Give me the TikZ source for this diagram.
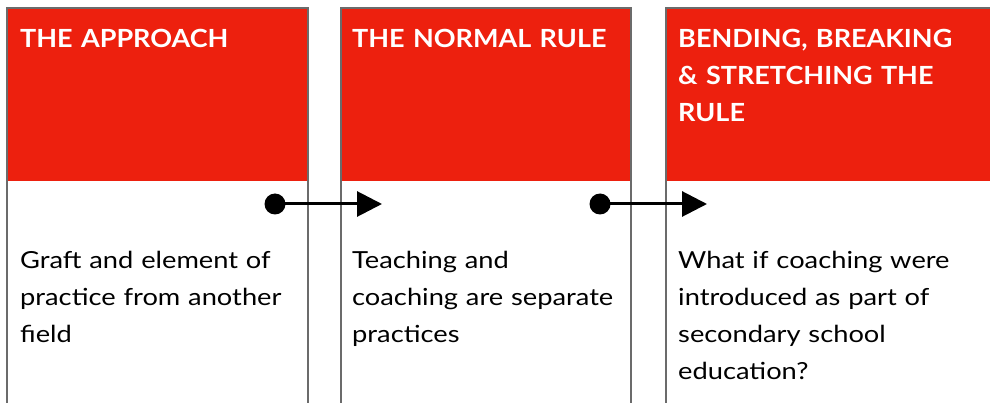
\documentclass[tikz,border=0pt]{standalone}
\usepackage{fontspec}
\setmainfont{Lato}
\newfontfamily\bodyfont[FakeStretch=1.16]{Lato}
\newfontfamily\headfont[FakeStretch=1.08]{Lato Bold}
\usetikzlibrary{arrows.meta}
\definecolor{hdrred}{HTML}{ED200E}
\definecolor{bordergray}{HTML}{6B6B6B}
\tikzset{
  header/.style={fill=hdrred, draw=none},
  frame/.style={draw=bordergray, line width=2.5pt},
  hdrtext/.style={anchor=base west, inner sep=0, text=white, text width=300pt, align=left,
    font={\headfont\fontsize{25}{37}\selectfont}},
  bodytext/.style={anchor=base west, inner sep=0, text=black, text width=310pt, align=left,
    font={\bodyfont\fontsize{23.5}{37}\selectfont}},
  dotnode/.style={circle, fill=black, inner sep=0, minimum size=21pt},
  link/.style={line width=3pt, -{Triangle[length=25pt,width=25pt]}}
}
\begin{document}
\begin{tikzpicture}[x=1pt,y=-1pt]
\useasboundingbox (0,0) rectangle (990,403);
\clip (0,0) rectangle (990,403);
% column boxes
\fill[header] (7,8) rectangle (308,181);
\fill[header] (341,8) rectangle (631,181);
\fill[header] (666,8) rectangle (1000,181);
\draw[frame] (7,420) -- (7,8) -- (308,8) -- (308,420);
\draw[frame] (341,420) -- (341,8) -- (631,8) -- (631,420);
\draw[frame] (666,420) -- (666,8) -- (1000,8);
% headers
\node[hdrtext] (h1) at (20,48) {THE APPROACH};
\node[hdrtext] (h2) at (352,48) {THE NORMAL RULE};
\node[hdrtext] (h3) at (678,48) {BENDING, BREAKING\\ \& STRETCHING THE\\ RULE};
% bodies
\node[bodytext] (b1) at (20,269) {Graft and element of\\ practice from another\\ field};
\node[bodytext] (b2) at (352,269) {Teaching and\\ coaching are separate\\ practices};
\node[bodytext] (b3) at (678,269) {What if coaching were\\ introduced as part of\\ secondary school\\ education?};
% connectors
\node[dotnode] (d1) at (275,204) {};
\coordinate (t1) at (382,204);
\node[dotnode] (d2) at (600,204) {};
\coordinate (t2) at (707,204);
\draw[link] (d1.center) -- (t1);
\draw[link] (d2.center) -- (t2);
\end{tikzpicture}
\end{document}
